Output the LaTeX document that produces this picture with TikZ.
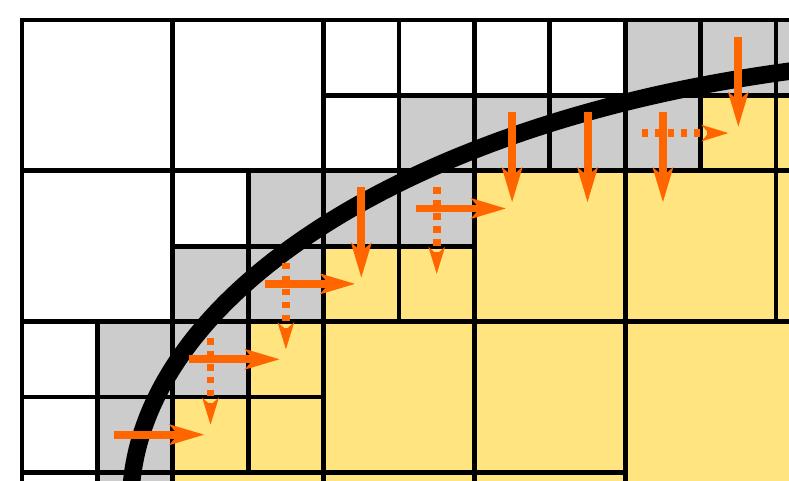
\documentclass[tikz,border=0pt]{standalone}
\usepackage{tikz}
\usetikzlibrary{arrows.meta}
\definecolor{cellgray}{HTML}{CCCCCC}
\definecolor{cellyellow}{HTML}{FFE480}
\definecolor{fluxorange}{HTML}{FF6600}

\begin{document}
\begin{tikzpicture}[
        wcell/.style={draw=black, line width=1.8pt, fill=white},
        gcell/.style={wcell, fill=cellgray},
        ycell/.style={wcell, fill=cellyellow},
        flux/.style={draw=fluxorange, line width=3pt, shorten <=-0.28cm, shorten >=0.08cm,
            -{Stealth[length=13pt, width=7.5pt, inset=3pt]}},
        ghost/.style={flux, dash pattern=on 2.4pt off 2.5pt, shorten >=0.13cm,
            -{Stealth[length=10pt, width=6pt, inset=2.5pt]}}
    ]
        \useasboundingbox (-0.292,-6.114) rectangle (10.172,0.265);
        \clip (-0.292,-6.114) rectangle (10.172,0.265);

        % cells as x/y/size, y counted downwards
        \foreach \x/\y/\sz in {0/0/2, 2/0/2, 0/2/2, 4/0/1, 5/0/1, 6/0/1, 7/0/1, 4/1/1, 2/2/1, 0/4/1, 0/5/1, 0/6/1}
            \draw[wcell] (\x,-\y) rectangle ++(\sz,-\sz);
        \foreach \x/\y/\sz in {8/0/1, 9/0/1, 10/0/1, 5/1/1, 6/1/1, 7/1/1, 8/1/1, 3/2/1, 4/2/1, 5/2/1,
                2/3/1, 3/3/1, 1/4/1, 2/4/1, 1/5/1, 1/6/1}
            \draw[gcell] (\x,-\y) rectangle ++(\sz,-\sz);
        \foreach \x/\y/\sz in {9/1/1, 10/1/1, 10/2/2, 6/2/2, 8/2/2, 4/3/1, 5/3/1, 3/4/1, 2/5/1, 3/5/1,
                4/4/2, 6/4/2, 8/4/4, 2/6/2, 4/6/2, 6/6/2}
            \draw[ycell] (\x,-\y) rectangle ++(\sz,-\sz);

        % centres of the small cells
        \foreach \x in {0,...,9}
            \foreach \y in {0,...,6}
                \coordinate (c\x\y) at (\x+0.5,-\y-0.5);

        % interface
        \draw[line width=6.6pt] (13.2,-6.43) ++(185:11.76 and 5.95)
            arc[start angle=185, end angle=100, x radius=11.76, y radius=5.95];

        \draw[ghost] (c81) -- (c91);
        \draw[ghost] (c52) -- (c53);
        \draw[ghost] (c33) -- (c34);
        \draw[ghost] (c24) -- (c25);

        \draw[flux] (c15) -- (c25);
        \draw[flux] (c24) -- (c34);
        \draw[flux] (c33) -- (c43);
        \draw[flux] (c52) -- (c62);
        \draw[flux] (c42) -- (c43);
        \draw[flux] (c61) -- (c62);
        \draw[flux] (c71) -- (c72);
        \draw[flux] (c81) -- (c82);
        \draw[flux] (c90) -- (c91);
    \end{tikzpicture}
\end{document}
